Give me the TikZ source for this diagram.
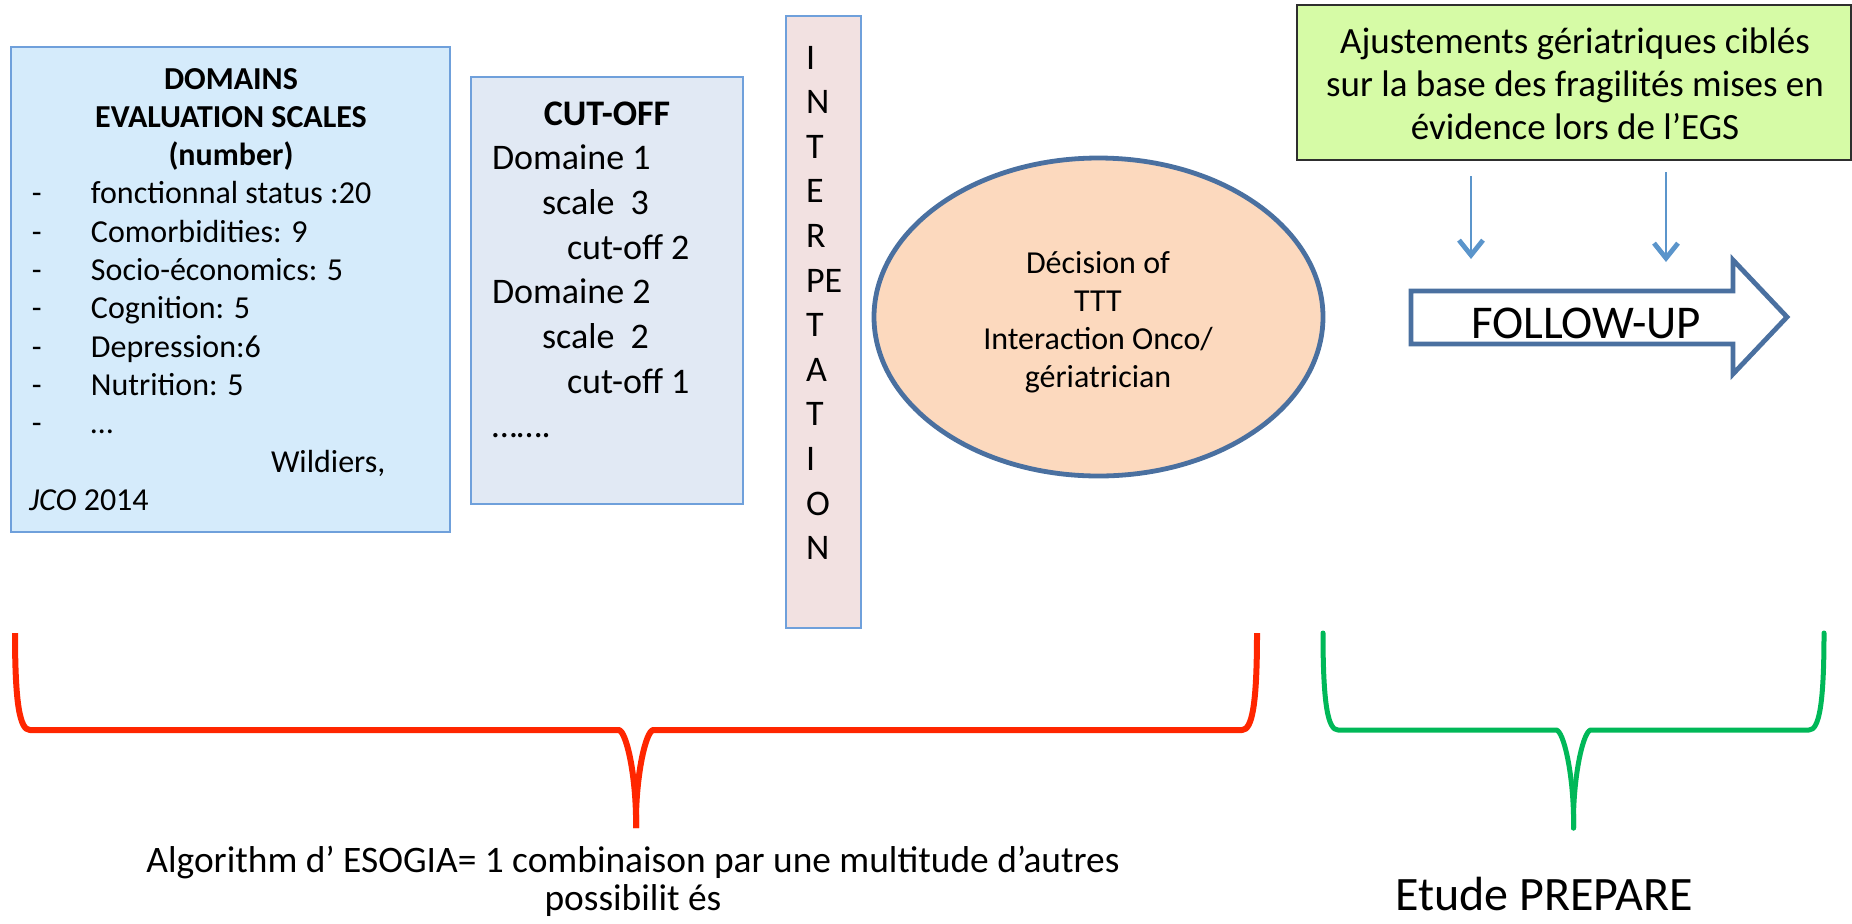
\documentclass[tikz,border=0pt]{standalone}
\usepackage{fontspec}
\setmainfont{Carlito}
\usetikzlibrary{arrows.meta,shapes.geometric}

\definecolor{panelblue}{HTML}{D5EBFB}
\definecolor{panelgrey}{HTML}{E1E9F4}
\definecolor{panelpink}{HTML}{F2E1E1}
\definecolor{paneledge}{HTML}{6FA0DB}
\definecolor{peachfill}{HTML}{FCD9BE}
\definecolor{steeledge}{HTML}{4A70A0}
\definecolor{limefill}{HTML}{D6FBA6}
\definecolor{flowblue}{HTML}{5B95CB}
\definecolor{bracered}{HTML}{FF2600}
\definecolor{bracegreen}{HTML}{00B858}

% curly brace opening downwards: #1 style, #2 left x, #3 centre x, #4 right x
\newcommand\bracepair[4]{%
  \draw[#1] (#2,633) .. controls (#2,705) and ({#2+5},730) .. ({#2+15},730)
    -- ({#3-17},730) .. controls ({#3-10},732) and ({#3-1},770) .. (#3,815) -- (#3,828);
  \draw[#1] (#4,633) .. controls (#4,705) and ({#4-5},730) .. ({#4-15},730)
    -- ({#3+17},730) .. controls ({#3+10},732) and ({#3+1},770) .. (#3,815) -- (#3,828);
}

\begin{document}
\begin{tikzpicture}[x=0.5pt,y=-0.5pt,
  panel/.style={draw=paneledge, line width=0.85pt, inner sep=0pt},
  txt/.style={inner sep=0pt, outer sep=0pt, anchor=north west, align=left},
  ctxt/.style={inner sep=0pt, outer sep=0pt, anchor=north, align=center},
  flow/.style={draw=flowblue, line width=1pt,
    -{Straight Barb[length=7.5pt,width=12pt,line width=2.4pt]}},
  redbrace/.style={draw=bracered, line width=3pt, line join=round},
  greenbrace/.style={draw=bracegreen, line width=2.5pt, line cap=round, line join=round}]

\useasboundingbox (0,0) rectangle (1852,923);

% evaluation domains panel
\node[panel, fill=panelblue, minimum width=219.5pt, minimum height=242.5pt]
  (domains) at (230.5,289.5) {};
\node[txt, font=\fontsize{16}{19.15}\selectfont] (domainstext) at (29,62.2) {%
  \makebox[202pt][c]{\bfseries DOMAINS}\strut\\
  \makebox[202pt][c]{\bfseries EVALUATION SCALES}\strut\\
  \makebox[202pt][c]{\bfseries (number)}\strut\\
  \makebox[31pt][l]{\hspace*{1.5pt}-}fonctionnal status :20\strut\\
  \makebox[31pt][l]{\hspace*{1.5pt}-}Comorbidities: 9\strut\\
  \makebox[31pt][l]{\hspace*{1.5pt}-}Socio-économics: 5\strut\\
  \makebox[31pt][l]{\hspace*{1.5pt}-}Cognition: 5\strut\\
  \makebox[31pt][l]{\hspace*{1.5pt}-}Depression:6\strut\\
  \makebox[31pt][l]{\hspace*{1.5pt}-}Nutrition: 5\strut\\
  \makebox[31pt][l]{\hspace*{1.5pt}-}…\strut\\
  \hspace*{121pt}Wildiers,\strut\\
  \textit{JCO} 2014\strut};

% cut-off panel
\node[panel, fill=panelgrey, minimum width=136pt, minimum height=213.5pt]
  (cutoff) at (607,290.5) {};
\node[txt, font=\fontsize{18}{22.35}\selectfont] (cutofftext) at (492,93.7) {%
  \makebox[115pt][c]{\bfseries CUT-OFF}\strut\\
  Domaine 1\strut\\
  \hspace*{25pt}scale\ \ 3\strut\\
  \hspace*{37.5pt}cut-off 2\strut\\
  Domaine 2\strut\\
  \hspace*{25pt}scale\ \ 2\strut\\
  \hspace*{37.5pt}cut-off 1\strut\\
  …….\strut};

% interpretation column
\node[panel, fill=panelpink, minimum width=37.5pt, minimum height=306pt]
  (interp) at (823.5,322) {};
\node[txt, font=\fontsize{18}{22.3}\selectfont] (interptext) at (806,37.8) {%
  I\strut\\N\strut\\T\strut\\E\strut\\R\strut\\PE\strut\\T\strut\\A\strut\\
  T\strut\\I\strut\\O\strut\\N\strut};

% decision ellipse
\node[ellipse, draw=steeledge, line width=2.4pt, fill=peachfill,
  minimum width=224.5pt, minimum height=159pt, inner sep=0pt]
  (decision) at (1098.5,317) {};
\node[ctxt, font=\fontsize{16}{19.15}\selectfont] (decisiontext) at (1098,246.2) {%
  Décision of\strut\\TTT\strut\\Interaction Onco/\strut\\gériatrician\strut};

% geriatric adjustments box
\node[draw=black!82, line width=1pt, fill=limefill, inner sep=0pt,
  minimum width=277pt, minimum height=77.5pt] (adjust) at (1574,82.5) {};
\node[ctxt, font=\fontsize{18.5}{21.5}\selectfont] (adjusttext) at (1575,22.9) {%
  Ajustements gériatriques ciblés\strut\\
  sur la base des fragilités mises en\strut\\
  évidence lors de l’EGS\strut};

% follow-up block arrow
\coordinate (fuA) at (1411,291);
\coordinate (fuB) at (1733,291);
\coordinate (fuC) at (1733,260);
\coordinate (fuD) at (1787,317);
\coordinate (fuE) at (1733,374);
\coordinate (fuF) at (1733,344);
\coordinate (fuG) at (1411,344);
\draw[draw=steeledge, line width=2.4pt, fill=white, line join=miter]
  (fuA) -- (fuB) -- (fuC) -- (fuD) -- (fuE) -- (fuF) -- (fuG) -- cycle;
\node[inner sep=0pt, anchor=base, font=\fontsize{23.5}{28}\selectfont]
  (followup) at (1586,338) {FOLLOW-UP};

% adjustments feeding the follow-up
\coordinate (in1) at (1471,259);
\coordinate (in2) at (1666,262);
\draw[flow, shorten <=7.5pt] (adjust.south -| in1) -- (in1);
\draw[flow, shorten <=5.5pt] (adjust.south -| in2) -- (in2);

% braces grouping the phases
\bracepair{redbrace}{15}{636}{1257}
\bracepair{greenbrace}{1323}{1573.5}{1824}

% captions under the braces
\node[ctxt, font=\fontsize{18.7}{17}\selectfont] (esogia) at (633,846) {%
  Algorithm d’ ESOGIA= 1 combinaison par une multitude d’autres\strut\\
  possibilit és};
\node[inner sep=0pt, anchor=base, font=\fontsize{24}{28}\selectfont]
  (prepare) at (1544,910) {Etude PREPARE};

\end{tikzpicture}
\end{document}
